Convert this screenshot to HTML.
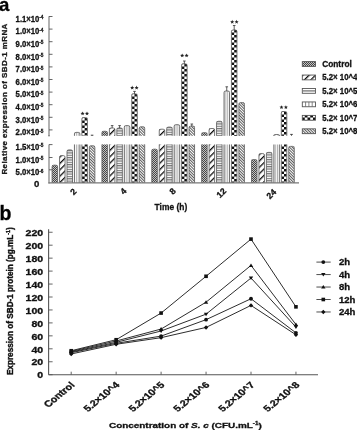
<!DOCTYPE html>
<html><head><meta charset="utf-8"><style>
html,body{margin:0;padding:0;background:#fff;}
svg{display:block;font-family:"Liberation Sans", sans-serif;filter:grayscale(1) blur(0.35px);}
text{stroke:#111;stroke-width:0.3px;paint-order:stroke;}
</style></head><body>
<svg width="357" height="430" viewBox="0 0 357 430">
<rect width="357" height="430" fill="#fff"/>
<defs>
<pattern id="pc" patternUnits="userSpaceOnUse" width="2" height="2"><rect width="2" height="2" fill="#c4c4c4"/><rect width="1" height="1" fill="#444"/><rect x="1" y="1" width="1" height="1" fill="#444"/></pattern>
<pattern id="p4" patternUnits="userSpaceOnUse" width="4.5" height="4.5" patternTransform="rotate(-45)"><rect width="4.5" height="4.5" fill="#fff"/><rect width="4.5" height="1.3" fill="#111"/></pattern>
<pattern id="p5" patternUnits="userSpaceOnUse" width="4" height="2.35"><rect width="4" height="2.35" fill="#fff"/><rect width="4" height="1.2" fill="#777"/></pattern>
<pattern id="p6" patternUnits="userSpaceOnUse" width="1.8333" height="4" x="-0.4"><rect width="1.8333" height="4" fill="#fff"/><rect width="0.75" height="4" fill="#999"/></pattern>
<pattern id="p7" patternUnits="userSpaceOnUse" width="5.5" height="5.0" x="0" y="0"><rect width="5.5" height="5" fill="#fff"/><rect x="2.75" width="2.75" height="2.5" fill="#111"/><rect y="2.5" width="2.75" height="2.5" fill="#111"/></pattern>
<pattern id="p8" patternUnits="userSpaceOnUse" width="2" height="2" patternTransform="rotate(45)"><rect width="2" height="2" fill="#fff"/><rect width="2" height="0.8" fill="#333"/></pattern>
</defs>
<rect transform="translate(52,165)" x="0.10" y="0.20" width="5.5" height="17.70" fill="url(#pc)"/>
<path d="M52.10,182.90 L52.10,166.80 Q52.10,165.20 53.70,165.20 L56.00,165.20 Q57.60,165.20 57.60,166.80 L57.60,182.90" fill="none" stroke="#666" stroke-width="0.9"/>
<rect transform="translate(60,156)" x="-0.45" y="-0.40" width="5.5" height="27.30" fill="url(#p4)"/>
<path d="M59.55,182.90 L59.55,157.20 Q59.55,155.60 61.15,155.60 L63.45,155.60 Q65.05,155.60 65.05,157.20 L65.05,182.90" fill="none" stroke="#666" stroke-width="0.9"/>
<rect transform="translate(67,150)" x="0.00" y="-0.10" width="5.5" height="33.00" fill="url(#p5)"/>
<path d="M67.00,182.90 L67.00,151.50 Q67.00,149.90 68.60,149.90 L70.90,149.90 Q72.50,149.90 72.50,151.50 L72.50,182.90" fill="none" stroke="#666" stroke-width="0.9"/>
<rect transform="translate(74.45,144)" x="0.00" y="0.50" width="5.5" height="38.40" fill="url(#p6)"/>
<path d="M74.45,182.90 L74.45,144.50 M79.95,144.50 L79.95,182.90" fill="none" stroke="#666" stroke-width="0.9"/>
<rect transform="translate(74.45,132)" x="0.00" y="0.40" width="5.5" height="3.40" fill="url(#p6)"/>
<path d="M74.45,135.80 L74.45,134.00 Q74.45,132.40 76.05,132.40 L78.35,132.40 Q79.95,132.40 79.95,134.00 L79.95,135.80" fill="none" stroke="#666" stroke-width="0.9"/>
<rect transform="translate(81.9,144)" x="0.00" y="0.50" width="5.5" height="38.40" fill="url(#p7)"/>
<path d="M81.90,182.90 L81.90,144.50 M87.40,144.50 L87.40,182.90" fill="none" stroke="#666" stroke-width="0.9"/>
<rect transform="translate(81.9,118)" x="0.00" y="-0.40" width="5.5" height="18.20" fill="url(#p7)"/>
<path d="M81.90,135.80 L81.90,119.20 Q81.90,117.60 83.50,117.60 L85.80,117.60 Q87.40,117.60 87.40,119.20 L87.40,135.80" fill="none" stroke="#666" stroke-width="0.9"/>
<rect transform="translate(89,146)" x="0.35" y="-0.20" width="5.5" height="37.10" fill="url(#p8)"/>
<path d="M89.35,182.90 L89.35,147.40 Q89.35,145.80 90.95,145.80 L93.25,145.80 Q94.85,145.80 94.85,147.40 L94.85,182.90" fill="none" stroke="#666" stroke-width="0.9"/>
<rect transform="translate(102,144)" x="-0.05" y="0.50" width="5.5" height="38.40" fill="url(#pc)"/>
<path d="M101.95,182.90 L101.95,144.50 M107.45,144.50 L107.45,182.90" fill="none" stroke="#666" stroke-width="0.9"/>
<rect transform="translate(102,131)" x="-0.05" y="0.30" width="5.5" height="4.50" fill="url(#pc)"/>
<path d="M101.95,135.80 L101.95,132.90 Q101.95,131.30 103.55,131.30 L105.85,131.30 Q107.45,131.30 107.45,132.90 L107.45,135.80" fill="none" stroke="#666" stroke-width="0.9"/>
<rect transform="translate(109,144)" x="0.40" y="0.50" width="5.5" height="38.40" fill="url(#p4)"/>
<path d="M109.40,182.90 L109.40,144.50 M114.90,144.50 L114.90,182.90" fill="none" stroke="#666" stroke-width="0.9"/>
<rect transform="translate(109,128)" x="0.40" y="0.00" width="5.5" height="7.80" fill="url(#p4)"/>
<path d="M109.40,135.80 L109.40,129.60 Q109.40,128.00 111.00,128.00 L113.30,128.00 Q114.90,128.00 114.90,129.60 L114.90,135.80" fill="none" stroke="#666" stroke-width="0.9"/>
<rect transform="translate(117,144)" x="-0.15" y="0.50" width="5.5" height="38.40" fill="url(#p5)"/>
<path d="M116.85,182.90 L116.85,144.50 M122.35,144.50 L122.35,182.90" fill="none" stroke="#666" stroke-width="0.9"/>
<rect transform="translate(117,128)" x="-0.15" y="0.00" width="5.5" height="7.80" fill="url(#p5)"/>
<path d="M116.85,135.80 L116.85,129.60 Q116.85,128.00 118.45,128.00 L120.75,128.00 Q122.35,128.00 122.35,129.60 L122.35,135.80" fill="none" stroke="#666" stroke-width="0.9"/>
<rect transform="translate(124.3,144)" x="0.00" y="0.50" width="5.5" height="38.40" fill="url(#p6)"/>
<path d="M124.30,182.90 L124.30,144.50 M129.80,144.50 L129.80,182.90" fill="none" stroke="#666" stroke-width="0.9"/>
<rect transform="translate(124.3,126)" x="0.00" y="-0.40" width="5.5" height="10.20" fill="url(#p6)"/>
<path d="M124.30,135.80 L124.30,127.20 Q124.30,125.60 125.90,125.60 L128.20,125.60 Q129.80,125.60 129.80,127.20 L129.80,135.80" fill="none" stroke="#666" stroke-width="0.9"/>
<rect transform="translate(131.75,144)" x="0.00" y="0.50" width="5.5" height="38.40" fill="url(#p7)"/>
<path d="M131.75,182.90 L131.75,144.50 M137.25,144.50 L137.25,182.90" fill="none" stroke="#666" stroke-width="0.9"/>
<rect transform="translate(131.75,94)" x="0.00" y="-0.20" width="5.5" height="42.00" fill="url(#p7)"/>
<path d="M131.75,135.80 L131.75,95.40 Q131.75,93.80 133.35,93.80 L135.65,93.80 Q137.25,93.80 137.25,95.40 L137.25,135.80" fill="none" stroke="#666" stroke-width="0.9"/>
<rect transform="translate(139,144)" x="0.20" y="0.50" width="5.5" height="38.40" fill="url(#p8)"/>
<path d="M139.20,182.90 L139.20,144.50 M144.70,144.50 L144.70,182.90" fill="none" stroke="#666" stroke-width="0.9"/>
<rect transform="translate(139,127)" x="0.20" y="-0.20" width="5.5" height="9.00" fill="url(#p8)"/>
<path d="M139.20,135.80 L139.20,128.40 Q139.20,126.80 140.80,126.80 L143.10,126.80 Q144.70,126.80 144.70,128.40 L144.70,135.80" fill="none" stroke="#666" stroke-width="0.9"/>
<rect transform="translate(152,149)" x="-0.20" y="0.20" width="5.5" height="33.70" fill="url(#pc)"/>
<path d="M151.80,182.90 L151.80,150.80 Q151.80,149.20 153.40,149.20 L155.70,149.20 Q157.30,149.20 157.30,150.80 L157.30,182.90" fill="none" stroke="#666" stroke-width="0.9"/>
<rect transform="translate(159,144)" x="0.25" y="0.50" width="5.5" height="38.40" fill="url(#p4)"/>
<path d="M159.25,182.90 L159.25,144.50 M164.75,144.50 L164.75,182.90" fill="none" stroke="#666" stroke-width="0.9"/>
<rect transform="translate(159,129)" x="0.25" y="0.20" width="5.5" height="6.60" fill="url(#p4)"/>
<path d="M159.25,135.80 L159.25,130.80 Q159.25,129.20 160.85,129.20 L163.15,129.20 Q164.75,129.20 164.75,130.80 L164.75,135.80" fill="none" stroke="#666" stroke-width="0.9"/>
<rect transform="translate(167,144)" x="-0.30" y="0.50" width="5.5" height="38.40" fill="url(#p5)"/>
<path d="M166.70,182.90 L166.70,144.50 M172.20,144.50 L172.20,182.90" fill="none" stroke="#666" stroke-width="0.9"/>
<rect transform="translate(167,127)" x="-0.30" y="0.10" width="5.5" height="8.70" fill="url(#p5)"/>
<path d="M166.70,135.80 L166.70,128.70 Q166.70,127.10 168.30,127.10 L170.60,127.10 Q172.20,127.10 172.20,128.70 L172.20,135.80" fill="none" stroke="#666" stroke-width="0.9"/>
<rect transform="translate(174.15,144)" x="0.00" y="0.50" width="5.5" height="38.40" fill="url(#p6)"/>
<path d="M174.15,182.90 L174.15,144.50 M179.65,144.50 L179.65,182.90" fill="none" stroke="#666" stroke-width="0.9"/>
<rect transform="translate(174.15,125)" x="0.00" y="-0.30" width="5.5" height="11.10" fill="url(#p6)"/>
<path d="M174.15,135.80 L174.15,126.30 Q174.15,124.70 175.75,124.70 L178.05,124.70 Q179.65,124.70 179.65,126.30 L179.65,135.80" fill="none" stroke="#666" stroke-width="0.9"/>
<rect transform="translate(181.6,144)" x="0.00" y="0.50" width="5.5" height="38.40" fill="url(#p7)"/>
<path d="M181.60,182.90 L181.60,144.50 M187.10,144.50 L187.10,182.90" fill="none" stroke="#666" stroke-width="0.9"/>
<rect transform="translate(181.6,64)" x="0.00" y="-0.20" width="5.5" height="72.00" fill="url(#p7)"/>
<path d="M181.60,135.80 L181.60,65.40 Q181.60,63.80 183.20,63.80 L185.50,63.80 Q187.10,63.80 187.10,65.40 L187.10,135.80" fill="none" stroke="#666" stroke-width="0.9"/>
<rect transform="translate(189,144)" x="0.05" y="0.50" width="5.5" height="38.40" fill="url(#p8)"/>
<path d="M189.05,182.90 L189.05,144.50 M194.55,144.50 L194.55,182.90" fill="none" stroke="#666" stroke-width="0.9"/>
<rect transform="translate(189,126)" x="0.05" y="0.10" width="5.5" height="9.70" fill="url(#p8)"/>
<path d="M189.05,135.80 L189.05,127.70 Q189.05,126.10 190.65,126.10 L192.95,126.10 Q194.55,126.10 194.55,127.70 L194.55,135.80" fill="none" stroke="#666" stroke-width="0.9"/>
<rect transform="translate(202,144)" x="-0.35" y="0.50" width="5.5" height="38.40" fill="url(#pc)"/>
<path d="M201.65,182.90 L201.65,144.50 M207.15,144.50 L207.15,182.90" fill="none" stroke="#666" stroke-width="0.9"/>
<rect transform="translate(202,133)" x="-0.35" y="-0.30" width="5.5" height="3.10" fill="url(#pc)"/>
<path d="M201.65,135.80 L201.65,134.30 Q201.65,132.70 203.25,132.70 L205.55,132.70 Q207.15,132.70 207.15,134.30 L207.15,135.80" fill="none" stroke="#666" stroke-width="0.9"/>
<rect transform="translate(209,144)" x="0.10" y="0.50" width="5.5" height="38.40" fill="url(#p4)"/>
<path d="M209.10,182.90 L209.10,144.50 M214.60,144.50 L214.60,182.90" fill="none" stroke="#666" stroke-width="0.9"/>
<rect transform="translate(209,128)" x="0.10" y="0.50" width="5.5" height="7.30" fill="url(#p4)"/>
<path d="M209.10,135.80 L209.10,130.10 Q209.10,128.50 210.70,128.50 L213.00,128.50 Q214.60,128.50 214.60,130.10 L214.60,135.80" fill="none" stroke="#666" stroke-width="0.9"/>
<rect transform="translate(217,144)" x="-0.45" y="0.50" width="5.5" height="38.40" fill="url(#p5)"/>
<path d="M216.55,182.90 L216.55,144.50 M222.05,144.50 L222.05,182.90" fill="none" stroke="#666" stroke-width="0.9"/>
<rect transform="translate(217,121)" x="-0.45" y="0.30" width="5.5" height="14.50" fill="url(#p5)"/>
<path d="M216.55,135.80 L216.55,122.90 Q216.55,121.30 218.15,121.30 L220.45,121.30 Q222.05,121.30 222.05,122.90 L222.05,135.80" fill="none" stroke="#666" stroke-width="0.9"/>
<rect transform="translate(224.0,144)" x="0.00" y="0.50" width="5.5" height="38.40" fill="url(#p6)"/>
<path d="M224.00,182.90 L224.00,144.50 M229.50,144.50 L229.50,182.90" fill="none" stroke="#666" stroke-width="0.9"/>
<rect transform="translate(224.0,91)" x="0.00" y="0.00" width="5.5" height="44.80" fill="url(#p6)"/>
<path d="M224.00,135.80 L224.00,92.60 Q224.00,91.00 225.60,91.00 L227.90,91.00 Q229.50,91.00 229.50,92.60 L229.50,135.80" fill="none" stroke="#666" stroke-width="0.9"/>
<rect transform="translate(231.45,144)" x="0.00" y="0.50" width="5.5" height="38.40" fill="url(#p7)"/>
<path d="M231.45,182.90 L231.45,144.50 M236.95,144.50 L236.95,182.90" fill="none" stroke="#666" stroke-width="0.9"/>
<rect transform="translate(231.45,30)" x="0.00" y="0.00" width="5.5" height="105.80" fill="url(#p7)"/>
<path d="M231.45,135.80 L231.45,31.60 Q231.45,30.00 233.05,30.00 L235.35,30.00 Q236.95,30.00 236.95,31.60 L236.95,135.80" fill="none" stroke="#666" stroke-width="0.9"/>
<rect transform="translate(239,144)" x="-0.10" y="0.50" width="5.5" height="38.40" fill="url(#p8)"/>
<path d="M238.90,182.90 L238.90,144.50 M244.40,144.50 L244.40,182.90" fill="none" stroke="#666" stroke-width="0.9"/>
<rect transform="translate(239,103)" x="-0.10" y="-0.40" width="5.5" height="33.20" fill="url(#p8)"/>
<path d="M238.90,135.80 L238.90,104.20 Q238.90,102.60 240.50,102.60 L242.80,102.60 Q244.40,102.60 244.40,104.20 L244.40,135.80" fill="none" stroke="#666" stroke-width="0.9"/>
<rect transform="translate(252,160)" x="-0.50" y="-0.40" width="5.5" height="23.30" fill="url(#pc)"/>
<path d="M251.50,182.90 L251.50,161.20 Q251.50,159.60 253.10,159.60 L255.40,159.60 Q257.00,159.60 257.00,161.20 L257.00,182.90" fill="none" stroke="#666" stroke-width="0.9"/>
<rect transform="translate(259,154)" x="-0.05" y="-0.40" width="5.5" height="29.30" fill="url(#p4)"/>
<path d="M258.95,182.90 L258.95,155.20 Q258.95,153.60 260.55,153.60 L262.85,153.60 Q264.45,153.60 264.45,155.20 L264.45,182.90" fill="none" stroke="#666" stroke-width="0.9"/>
<rect transform="translate(266,152)" x="0.40" y="0.40" width="5.5" height="30.50" fill="url(#p5)"/>
<path d="M266.40,182.90 L266.40,154.00 Q266.40,152.40 268.00,152.40 L270.30,152.40 Q271.90,152.40 271.90,154.00 L271.90,182.90" fill="none" stroke="#666" stroke-width="0.9"/>
<rect transform="translate(273.85,144)" x="0.00" y="0.50" width="5.5" height="38.40" fill="url(#p6)"/>
<path d="M273.85,182.90 L273.85,144.50 M279.35,144.50 L279.35,182.90" fill="none" stroke="#666" stroke-width="0.9"/>
<rect transform="translate(281.3,144)" x="0.00" y="0.50" width="5.5" height="38.40" fill="url(#p7)"/>
<path d="M281.30,182.90 L281.30,144.50 M286.80,144.50 L286.80,182.90" fill="none" stroke="#666" stroke-width="0.9"/>
<rect transform="translate(281.3,112)" x="0.00" y="-0.50" width="5.5" height="24.30" fill="url(#p7)"/>
<path d="M281.30,135.80 L281.30,113.10 Q281.30,111.50 282.90,111.50 L285.20,111.50 Q286.80,111.50 286.80,113.10 L286.80,135.80" fill="none" stroke="#666" stroke-width="0.9"/>
<rect transform="translate(289,146)" x="-0.25" y="0.40" width="5.5" height="36.50" fill="url(#p8)"/>
<path d="M288.75,182.90 L288.75,148.00 Q288.75,146.40 290.35,146.40 L292.65,146.40 Q294.25,146.40 294.25,148.00 L294.25,182.90" fill="none" stroke="#666" stroke-width="0.9"/>
<line x1="112.15" y1="125.60" x2="112.15" y2="128.00" stroke="#333" stroke-width="0.8"/>
<line x1="110.85" y1="125.60" x2="113.45" y2="125.60" stroke="#333" stroke-width="0.8"/>
<line x1="119.60" y1="125.60" x2="119.60" y2="128.00" stroke="#333" stroke-width="0.8"/>
<line x1="118.30" y1="125.60" x2="120.90" y2="125.60" stroke="#333" stroke-width="0.8"/>
<line x1="134.50" y1="91.40" x2="134.50" y2="93.80" stroke="#333" stroke-width="0.8"/>
<line x1="133.20" y1="91.40" x2="135.80" y2="91.40" stroke="#333" stroke-width="0.8"/>
<line x1="226.75" y1="86.80" x2="226.75" y2="91.00" stroke="#333" stroke-width="0.8"/>
<line x1="225.45" y1="86.80" x2="228.05" y2="86.80" stroke="#333" stroke-width="0.8"/>
<line x1="234.20" y1="25.50" x2="234.20" y2="30.00" stroke="#333" stroke-width="0.8"/>
<line x1="232.90" y1="25.50" x2="235.50" y2="25.50" stroke="#333" stroke-width="0.8"/>
<line x1="191.80" y1="124.00" x2="191.80" y2="126.10" stroke="#333" stroke-width="0.8"/>
<line x1="190.50" y1="124.00" x2="193.10" y2="124.00" stroke="#333" stroke-width="0.8"/>
<line x1="184.35" y1="61.00" x2="184.35" y2="63.80" stroke="#333" stroke-width="0.8"/>
<line x1="183.05" y1="61.00" x2="185.65" y2="61.00" stroke="#333" stroke-width="0.8"/>
<line x1="92.10" y1="135.20" x2="92.10" y2="135.80" stroke="#333" stroke-width="0.8"/>
<line x1="90.80" y1="135.20" x2="93.40" y2="135.20" stroke="#333" stroke-width="0.9"/>
<line x1="291.50" y1="134.40" x2="291.50" y2="135.80" stroke="#333" stroke-width="0.8"/>
<line x1="290.20" y1="134.40" x2="292.80" y2="134.40" stroke="#333" stroke-width="0.9"/>
<path d="M273.85,135.80 L273.85,135.0 Q276.60,134.0 279.35,135.0 L279.35,135.80" fill="#fff" stroke="#444" stroke-width="0.9"/>
<polygon points="82.60,111.45 83.16,112.83 84.64,112.94 83.50,113.89 83.86,115.34 82.60,114.55 81.34,115.34 81.70,113.89 80.56,112.94 82.04,112.83" fill="#222"/>
<polygon points="87.00,111.45 87.56,112.83 89.04,112.94 87.90,113.89 88.26,115.34 87.00,114.55 85.74,115.34 86.10,113.89 84.96,112.94 86.44,112.83" fill="#222"/>
<polygon points="132.20,85.55 132.76,86.93 134.24,87.04 133.10,87.99 133.46,89.44 132.20,88.65 130.94,89.44 131.30,87.99 130.16,87.04 131.64,86.93" fill="#222"/>
<polygon points="136.60,85.55 137.16,86.93 138.64,87.04 137.50,87.99 137.86,89.44 136.60,88.65 135.34,89.44 135.70,87.99 134.56,87.04 136.04,86.93" fill="#222"/>
<polygon points="182.20,53.45 182.76,54.83 184.24,54.94 183.10,55.89 183.46,57.34 182.20,56.55 180.94,57.34 181.30,55.89 180.16,54.94 181.64,54.83" fill="#222"/>
<polygon points="186.60,53.45 187.16,54.83 188.64,54.94 187.50,55.89 187.86,57.34 186.60,56.55 185.34,57.34 185.70,55.89 184.56,54.94 186.04,54.83" fill="#222"/>
<polygon points="232.20,19.75 232.76,21.13 234.24,21.24 233.10,22.19 233.46,23.64 232.20,22.85 230.94,23.64 231.30,22.19 230.16,21.24 231.64,21.13" fill="#222"/>
<polygon points="236.60,19.75 237.16,21.13 238.64,21.24 237.50,22.19 237.86,23.64 236.60,22.85 235.34,23.64 235.70,22.19 234.56,21.24 236.04,21.13" fill="#222"/>
<polygon points="281.50,105.15 282.06,106.53 283.54,106.64 282.40,107.59 282.76,109.04 281.50,108.25 280.24,109.04 280.60,107.59 279.46,106.64 280.94,106.53" fill="#222"/>
<polygon points="285.90,105.15 286.46,106.53 287.94,106.64 286.80,107.59 287.16,109.04 285.90,108.25 284.64,109.04 285.00,107.59 283.86,106.64 285.34,106.53" fill="#222"/>
<line x1="49.0" y1="16.3" x2="49.0" y2="135.8" stroke="#888" stroke-width="1.3"/>
<line x1="49.0" y1="144.5" x2="49.0" y2="183.4" stroke="#888" stroke-width="1.3"/>
<line x1="48.4" y1="182.9" x2="299" y2="182.9" stroke="#777" stroke-width="1.2"/>
<line x1="49.0" y1="16.50" x2="52.5" y2="16.50" stroke="#555" stroke-width="0.9"/>
<line x1="49.0" y1="29.10" x2="52.5" y2="29.10" stroke="#555" stroke-width="0.9"/>
<line x1="49.0" y1="41.70" x2="52.5" y2="41.70" stroke="#555" stroke-width="0.9"/>
<line x1="49.0" y1="54.30" x2="52.5" y2="54.30" stroke="#555" stroke-width="0.9"/>
<line x1="49.0" y1="66.90" x2="52.5" y2="66.90" stroke="#555" stroke-width="0.9"/>
<line x1="49.0" y1="79.50" x2="52.5" y2="79.50" stroke="#555" stroke-width="0.9"/>
<line x1="49.0" y1="92.10" x2="52.5" y2="92.10" stroke="#555" stroke-width="0.9"/>
<line x1="49.0" y1="104.70" x2="52.5" y2="104.70" stroke="#555" stroke-width="0.9"/>
<line x1="49.0" y1="117.30" x2="52.5" y2="117.30" stroke="#555" stroke-width="0.9"/>
<line x1="49.0" y1="129.90" x2="52.5" y2="129.90" stroke="#555" stroke-width="0.9"/>
<line x1="48.0" y1="135.8" x2="50.0" y2="135.8" stroke="#666" stroke-width="0.8"/>
<line x1="49.0" y1="144.60" x2="52.5" y2="144.60" stroke="#555" stroke-width="0.9"/>
<line x1="49.0" y1="157.50" x2="52.5" y2="157.50" stroke="#555" stroke-width="0.9"/>
<line x1="49.0" y1="169.80" x2="52.5" y2="169.80" stroke="#555" stroke-width="0.9"/>
<text x="15.6" y="21.70" font-size="8.6" font-weight="bold" fill="#111" textLength="23.8" lengthAdjust="spacingAndGlyphs">1.1×10</text>
<text x="39.3" y="19.10" font-size="5.6" font-weight="bold" fill="#111" textLength="4.2" lengthAdjust="spacingAndGlyphs">-4</text>
<text x="15.6" y="34.30" font-size="8.6" font-weight="bold" fill="#111" textLength="23.8" lengthAdjust="spacingAndGlyphs">1.0×10</text>
<text x="39.3" y="31.70" font-size="5.6" font-weight="bold" fill="#111" textLength="4.2" lengthAdjust="spacingAndGlyphs">-4</text>
<text x="15.6" y="46.90" font-size="8.6" font-weight="bold" fill="#111" textLength="23.8" lengthAdjust="spacingAndGlyphs">9.0×10</text>
<text x="39.3" y="44.30" font-size="5.6" font-weight="bold" fill="#111" textLength="4.2" lengthAdjust="spacingAndGlyphs">-5</text>
<text x="15.6" y="59.50" font-size="8.6" font-weight="bold" fill="#111" textLength="23.8" lengthAdjust="spacingAndGlyphs">8.0×10</text>
<text x="39.3" y="56.90" font-size="5.6" font-weight="bold" fill="#111" textLength="4.2" lengthAdjust="spacingAndGlyphs">-5</text>
<text x="15.6" y="72.10" font-size="8.6" font-weight="bold" fill="#111" textLength="23.8" lengthAdjust="spacingAndGlyphs">7.0×10</text>
<text x="39.3" y="69.50" font-size="5.6" font-weight="bold" fill="#111" textLength="4.2" lengthAdjust="spacingAndGlyphs">-5</text>
<text x="15.6" y="84.70" font-size="8.6" font-weight="bold" fill="#111" textLength="23.8" lengthAdjust="spacingAndGlyphs">6.0×10</text>
<text x="39.3" y="82.10" font-size="5.6" font-weight="bold" fill="#111" textLength="4.2" lengthAdjust="spacingAndGlyphs">-5</text>
<text x="15.6" y="97.30" font-size="8.6" font-weight="bold" fill="#111" textLength="23.8" lengthAdjust="spacingAndGlyphs">5.0×10</text>
<text x="39.3" y="94.70" font-size="5.6" font-weight="bold" fill="#111" textLength="4.2" lengthAdjust="spacingAndGlyphs">-5</text>
<text x="15.6" y="109.90" font-size="8.6" font-weight="bold" fill="#111" textLength="23.8" lengthAdjust="spacingAndGlyphs">4.0×10</text>
<text x="39.3" y="107.30" font-size="5.6" font-weight="bold" fill="#111" textLength="4.2" lengthAdjust="spacingAndGlyphs">-5</text>
<text x="15.6" y="122.50" font-size="8.6" font-weight="bold" fill="#111" textLength="23.8" lengthAdjust="spacingAndGlyphs">3.0×10</text>
<text x="39.3" y="119.90" font-size="5.6" font-weight="bold" fill="#111" textLength="4.2" lengthAdjust="spacingAndGlyphs">-5</text>
<text x="15.6" y="135.10" font-size="8.6" font-weight="bold" fill="#111" textLength="23.8" lengthAdjust="spacingAndGlyphs">2.0×10</text>
<text x="39.3" y="132.50" font-size="5.6" font-weight="bold" fill="#111" textLength="4.2" lengthAdjust="spacingAndGlyphs">-5</text>
<text x="15.6" y="150.00" font-size="8.6" font-weight="bold" fill="#111" textLength="23.8" lengthAdjust="spacingAndGlyphs">1.5×10</text>
<text x="39.3" y="147.40" font-size="5.6" font-weight="bold" fill="#111" textLength="4.2" lengthAdjust="spacingAndGlyphs">-5</text>
<text x="15.6" y="162.90" font-size="8.6" font-weight="bold" fill="#111" textLength="23.8" lengthAdjust="spacingAndGlyphs">1.0×10</text>
<text x="39.3" y="160.30" font-size="5.6" font-weight="bold" fill="#111" textLength="4.2" lengthAdjust="spacingAndGlyphs">-5</text>
<text x="15.6" y="175.20" font-size="8.6" font-weight="bold" fill="#111" textLength="23.8" lengthAdjust="spacingAndGlyphs">5.0×10</text>
<text x="39.3" y="172.60" font-size="5.6" font-weight="bold" fill="#111" textLength="4.2" lengthAdjust="spacingAndGlyphs">-6</text>
<text x="34.0" y="187.1" font-size="9.6" font-weight="bold" fill="#111">0</text>
<text transform="translate(73.2,191.7) rotate(-45)" x="0" y="3" font-size="8.6" font-weight="bold" text-anchor="middle" fill="#111">2</text>
<text transform="translate(123.4,191.2) rotate(-45)" x="0" y="3" font-size="8.6" font-weight="bold" text-anchor="middle" fill="#111">4</text>
<text transform="translate(172.6,191.2) rotate(-45)" x="0" y="3" font-size="8.6" font-weight="bold" text-anchor="middle" fill="#111">8</text>
<text transform="translate(221.3,192.9) rotate(-45)" x="0" y="3" font-size="8.6" font-weight="bold" text-anchor="middle" fill="#111">12</text>
<text transform="translate(271.3,194.0) rotate(-45)" x="0" y="3" font-size="8.6" font-weight="bold" text-anchor="middle" fill="#111">24</text>
<text x="154.6" y="210.3" font-size="9.5" font-weight="bold" fill="#111" textLength="32.6" lengthAdjust="spacingAndGlyphs">Time (h)</text>
<text transform="translate(6.5,174.6) rotate(-90)" x="0" y="0" font-size="8.0" font-weight="bold" fill="#1a1a1a" textLength="151" lengthAdjust="spacing">Relative expression of SBD-1 mRNA</text>
<text x="-0.9" y="10.6" font-size="18.6" font-weight="bold" fill="#000">a</text>
<rect transform="translate(302,62)" x="0.3" y="-0.40" width="13.2" height="4.8" fill="url(#pc)" stroke="#555" stroke-width="0.9"/>
<text x="322.2" y="67.00" font-size="8.4" font-weight="bold" fill="#111" textLength="29.6" lengthAdjust="spacingAndGlyphs">Control</text>
<rect transform="translate(302,75)" x="0.3" y="0.05" width="13.2" height="4.8" fill="url(#p4)" stroke="#555" stroke-width="0.9"/>
<text x="322.2" y="80.45" font-size="8.4" font-weight="bold" fill="#111" textLength="35.2" lengthAdjust="spacingAndGlyphs">5.2× 10^4</text>
<rect x="302.3" y="88.50" width="13.2" height="4.8" fill="#fff" stroke="#555" stroke-width="0.9"/>
<line x1="302.3" y1="90.90" x2="315.5" y2="90.90" stroke="#777" stroke-width="1.3"/>
<text x="322.2" y="93.90" font-size="8.4" font-weight="bold" fill="#111" textLength="35.2" lengthAdjust="spacingAndGlyphs">5.2× 10^5</text>
<rect x="302.3" y="101.95" width="13.2" height="4.8" fill="#fff" stroke="#555" stroke-width="0.9"/>
<line x1="305.60" y1="101.95" x2="305.60" y2="106.75" stroke="#666" stroke-width="0.8"/>
<line x1="308.90" y1="101.95" x2="308.90" y2="106.75" stroke="#666" stroke-width="0.8"/>
<line x1="312.20" y1="101.95" x2="312.20" y2="106.75" stroke="#666" stroke-width="0.8"/>
<text x="322.2" y="107.35" font-size="8.4" font-weight="bold" fill="#111" textLength="35.2" lengthAdjust="spacingAndGlyphs">5.2× 10^6</text>
<rect transform="translate(302,115)" x="0.3" y="0.40" width="13.2" height="4.8" fill="url(#p7)" stroke="#555" stroke-width="0.9"/>
<text x="322.2" y="120.80" font-size="8.4" font-weight="bold" fill="#111" textLength="35.2" lengthAdjust="spacingAndGlyphs">5.2× 10^7</text>
<rect transform="translate(302,129)" x="0.3" y="-0.15" width="13.2" height="4.8" fill="url(#p8)" stroke="#555" stroke-width="0.9"/>
<text x="322.2" y="134.25" font-size="8.4" font-weight="bold" fill="#111" textLength="35.2" lengthAdjust="spacingAndGlyphs">5.2× 10^8</text>
<line x1="48.6" y1="229.2" x2="48.6" y2="374.7" stroke="#555" stroke-width="1.1"/>
<line x1="48.6" y1="374.7" x2="318" y2="374.7" stroke="#555" stroke-width="1.1"/>
<line x1="48.6" y1="374.70" x2="52.6" y2="374.70" stroke="#555" stroke-width="0.9"/>
<text transform="translate(43.1,378.40) scale(1.27,1)" x="0" y="0" font-size="8.3" font-weight="bold" text-anchor="end" fill="#111">0</text>
<line x1="48.6" y1="361.75" x2="52.6" y2="361.75" stroke="#555" stroke-width="0.9"/>
<text transform="translate(43.1,365.45) scale(1.27,1)" x="0" y="0" font-size="8.3" font-weight="bold" text-anchor="end" fill="#111">20</text>
<line x1="48.6" y1="348.80" x2="52.6" y2="348.80" stroke="#555" stroke-width="0.9"/>
<text transform="translate(43.1,352.50) scale(1.27,1)" x="0" y="0" font-size="8.3" font-weight="bold" text-anchor="end" fill="#111">40</text>
<line x1="48.6" y1="335.85" x2="52.6" y2="335.85" stroke="#555" stroke-width="0.9"/>
<text transform="translate(43.1,339.55) scale(1.27,1)" x="0" y="0" font-size="8.3" font-weight="bold" text-anchor="end" fill="#111">60</text>
<line x1="48.6" y1="322.90" x2="52.6" y2="322.90" stroke="#555" stroke-width="0.9"/>
<text transform="translate(43.1,326.60) scale(1.27,1)" x="0" y="0" font-size="8.3" font-weight="bold" text-anchor="end" fill="#111">80</text>
<line x1="48.6" y1="309.95" x2="52.6" y2="309.95" stroke="#555" stroke-width="0.9"/>
<text transform="translate(43.1,313.65) scale(1.27,1)" x="0" y="0" font-size="8.3" font-weight="bold" text-anchor="end" fill="#111">100</text>
<line x1="48.6" y1="297.00" x2="52.6" y2="297.00" stroke="#555" stroke-width="0.9"/>
<text transform="translate(43.1,300.70) scale(1.27,1)" x="0" y="0" font-size="8.3" font-weight="bold" text-anchor="end" fill="#111">120</text>
<line x1="48.6" y1="284.05" x2="52.6" y2="284.05" stroke="#555" stroke-width="0.9"/>
<text transform="translate(43.1,287.75) scale(1.27,1)" x="0" y="0" font-size="8.3" font-weight="bold" text-anchor="end" fill="#111">140</text>
<line x1="48.6" y1="271.10" x2="52.6" y2="271.10" stroke="#555" stroke-width="0.9"/>
<text transform="translate(43.1,274.80) scale(1.27,1)" x="0" y="0" font-size="8.3" font-weight="bold" text-anchor="end" fill="#111">160</text>
<line x1="48.6" y1="258.15" x2="52.6" y2="258.15" stroke="#555" stroke-width="0.9"/>
<text transform="translate(43.1,261.85) scale(1.27,1)" x="0" y="0" font-size="8.3" font-weight="bold" text-anchor="end" fill="#111">180</text>
<line x1="48.6" y1="245.20" x2="52.6" y2="245.20" stroke="#555" stroke-width="0.9"/>
<text transform="translate(43.1,248.90) scale(1.27,1)" x="0" y="0" font-size="8.3" font-weight="bold" text-anchor="end" fill="#111">200</text>
<line x1="48.6" y1="232.25" x2="52.6" y2="232.25" stroke="#555" stroke-width="0.9"/>
<text transform="translate(43.1,235.95) scale(1.27,1)" x="0" y="0" font-size="8.3" font-weight="bold" text-anchor="end" fill="#111">220</text>
<line x1="71.20" y1="374.7" x2="71.20" y2="371.7" stroke="#555" stroke-width="0.9"/>
<line x1="116.15" y1="374.7" x2="116.15" y2="371.7" stroke="#555" stroke-width="0.9"/>
<line x1="161.10" y1="374.7" x2="161.10" y2="371.7" stroke="#555" stroke-width="0.9"/>
<line x1="206.05" y1="374.7" x2="206.05" y2="371.7" stroke="#555" stroke-width="0.9"/>
<line x1="251.00" y1="374.7" x2="251.00" y2="371.7" stroke="#555" stroke-width="0.9"/>
<line x1="295.95" y1="374.7" x2="295.95" y2="371.7" stroke="#555" stroke-width="0.9"/>
<polyline points="71.20,352.69 116.15,343.30 161.10,336.11 206.05,319.66 251.00,298.75 295.95,332.87" fill="none" stroke="#222" stroke-width="0.95"/>
<polyline points="71.20,352.04 116.15,342.32 161.10,330.99 206.05,314.16 251.00,278.03 295.95,327.11" fill="none" stroke="#222" stroke-width="0.95"/>
<polyline points="71.20,351.39 116.15,341.03 161.10,329.05 206.05,302.18 251.00,265.40 295.95,324.52" fill="none" stroke="#222" stroke-width="0.95"/>
<polyline points="71.20,350.74 116.15,339.74 161.10,313.06 206.05,276.28 251.00,239.11 295.95,306.84" fill="none" stroke="#222" stroke-width="0.95"/>
<polyline points="71.20,353.98 116.15,344.27 161.10,337.66 206.05,327.43 251.00,305.42 295.95,334.75" fill="none" stroke="#222" stroke-width="0.95"/>
<circle cx="71.20" cy="352.69" r="1.90" fill="#111"/>
<circle cx="116.15" cy="343.30" r="1.90" fill="#111"/>
<circle cx="161.10" cy="336.11" r="1.90" fill="#111"/>
<circle cx="206.05" cy="319.66" r="1.90" fill="#111"/>
<circle cx="251.00" cy="298.75" r="1.90" fill="#111"/>
<circle cx="295.95" cy="332.87" r="1.90" fill="#111"/>
<path d="M69.00,350.54 L73.40,350.54 L71.20,354.04 Z" fill="#111"/>
<path d="M113.95,340.82 L118.35,340.82 L116.15,344.32 Z" fill="#111"/>
<path d="M158.90,329.49 L163.30,329.49 L161.10,332.99 Z" fill="#111"/>
<path d="M203.85,312.66 L208.25,312.66 L206.05,316.16 Z" fill="#111"/>
<path d="M248.80,276.53 L253.20,276.53 L251.00,280.03 Z" fill="#111"/>
<path d="M293.75,325.61 L298.15,325.61 L295.95,329.11 Z" fill="#111"/>
<path d="M69.00,352.89 L73.40,352.89 L71.20,349.39 Z" fill="#111"/>
<path d="M113.95,342.53 L118.35,342.53 L116.15,339.03 Z" fill="#111"/>
<path d="M158.90,330.55 L163.30,330.55 L161.10,327.05 Z" fill="#111"/>
<path d="M203.85,303.68 L208.25,303.68 L206.05,300.18 Z" fill="#111"/>
<path d="M248.80,266.90 L253.20,266.90 L251.00,263.40 Z" fill="#111"/>
<path d="M293.75,326.02 L298.15,326.02 L295.95,322.52 Z" fill="#111"/>
<rect x="69.40" y="348.94" width="3.60" height="3.60" fill="#111"/>
<rect x="114.35" y="337.94" width="3.60" height="3.60" fill="#111"/>
<rect x="159.30" y="311.26" width="3.60" height="3.60" fill="#111"/>
<rect x="204.25" y="274.48" width="3.60" height="3.60" fill="#111"/>
<rect x="249.20" y="237.31" width="3.60" height="3.60" fill="#111"/>
<rect x="294.15" y="305.04" width="3.60" height="3.60" fill="#111"/>
<path d="M71.20,351.78 L73.40,353.98 L71.20,356.18 L69.00,353.98 Z" fill="#111"/>
<path d="M116.15,342.07 L118.35,344.27 L116.15,346.47 L113.95,344.27 Z" fill="#111"/>
<path d="M161.10,335.46 L163.30,337.66 L161.10,339.86 L158.90,337.66 Z" fill="#111"/>
<path d="M206.05,325.23 L208.25,327.43 L206.05,329.63 L203.85,327.43 Z" fill="#111"/>
<path d="M251.00,303.22 L253.20,305.42 L251.00,307.62 L248.80,305.42 Z" fill="#111"/>
<path d="M295.95,332.55 L298.15,334.75 L295.95,336.95 L293.75,334.75 Z" fill="#111"/>
<line x1="316.4" y1="262.10" x2="330.7" y2="262.10" stroke="#222" stroke-width="0.8"/>
<circle cx="323.30" cy="262.10" r="1.90" fill="#111"/>
<text transform="translate(339.0,265.10) scale(1.15,1)" font-size="8.3" font-weight="bold" fill="#111">2h</text>
<line x1="316.4" y1="274.57" x2="330.7" y2="274.57" stroke="#222" stroke-width="0.8"/>
<path d="M321.10,273.07 L325.50,273.07 L323.30,276.57 Z" fill="#111"/>
<text transform="translate(339.0,277.57) scale(1.15,1)" font-size="8.3" font-weight="bold" fill="#111">4h</text>
<line x1="316.4" y1="287.04" x2="330.7" y2="287.04" stroke="#222" stroke-width="0.8"/>
<path d="M321.10,288.54 L325.50,288.54 L323.30,285.04 Z" fill="#111"/>
<text transform="translate(339.0,290.04) scale(1.15,1)" font-size="8.3" font-weight="bold" fill="#111">8h</text>
<line x1="316.4" y1="299.51" x2="330.7" y2="299.51" stroke="#222" stroke-width="0.8"/>
<rect x="321.50" y="297.71" width="3.60" height="3.60" fill="#111"/>
<text transform="translate(339.0,302.51) scale(1.15,1)" font-size="8.3" font-weight="bold" fill="#111">12h</text>
<line x1="316.4" y1="311.98" x2="330.7" y2="311.98" stroke="#222" stroke-width="0.8"/>
<path d="M323.30,309.78 L325.50,311.98 L323.30,314.18 L321.10,311.98 Z" fill="#111"/>
<text transform="translate(339.0,314.98) scale(1.15,1)" font-size="8.3" font-weight="bold" fill="#111">24h</text>
<text transform="translate(75.40,385.60) scale(1.22,1) rotate(-45)" font-size="8.9" font-weight="bold" text-anchor="end" fill="#111">Control</text>
<text transform="translate(120.35,385.60) scale(1.22,1) rotate(-45)" font-size="8.9" font-weight="bold" text-anchor="end" fill="#111">5.2×10^4</text>
<text transform="translate(165.30,385.60) scale(1.22,1) rotate(-45)" font-size="8.9" font-weight="bold" text-anchor="end" fill="#111">5.2×10^5</text>
<text transform="translate(210.25,385.60) scale(1.22,1) rotate(-45)" font-size="8.9" font-weight="bold" text-anchor="end" fill="#111">5.2×10^6</text>
<text transform="translate(255.20,385.60) scale(1.22,1) rotate(-45)" font-size="8.9" font-weight="bold" text-anchor="end" fill="#111">5.2×10^7</text>
<text transform="translate(300.15,385.60) scale(1.22,1) rotate(-45)" font-size="8.9" font-weight="bold" text-anchor="end" fill="#111">5.2×10^8</text>
<text transform="translate(109.0,428.0) scale(1.22,1)" font-size="7.9" font-weight="bold" fill="#111" textLength="125.2" lengthAdjust="spacingAndGlyphs">Concentration of <tspan font-style="italic">S. c</tspan> (CFU.mL<tspan font-size="5" dy="-3">-1</tspan><tspan dy="3">)</tspan></text>
<text transform="translate(13.0,375.1) rotate(-90) scale(1,1.27)" font-size="7.1" font-weight="bold" fill="#111" textLength="147.8" lengthAdjust="spacingAndGlyphs">Expression of SBD-1 protein (pg.mL<tspan font-size="4.5" dy="-2.5">-1</tspan><tspan dy="2.5">)</tspan></text>
<text x="-0.5" y="219.5" font-size="19.5" font-weight="bold" fill="#000">b</text>
</svg>
</body></html>
